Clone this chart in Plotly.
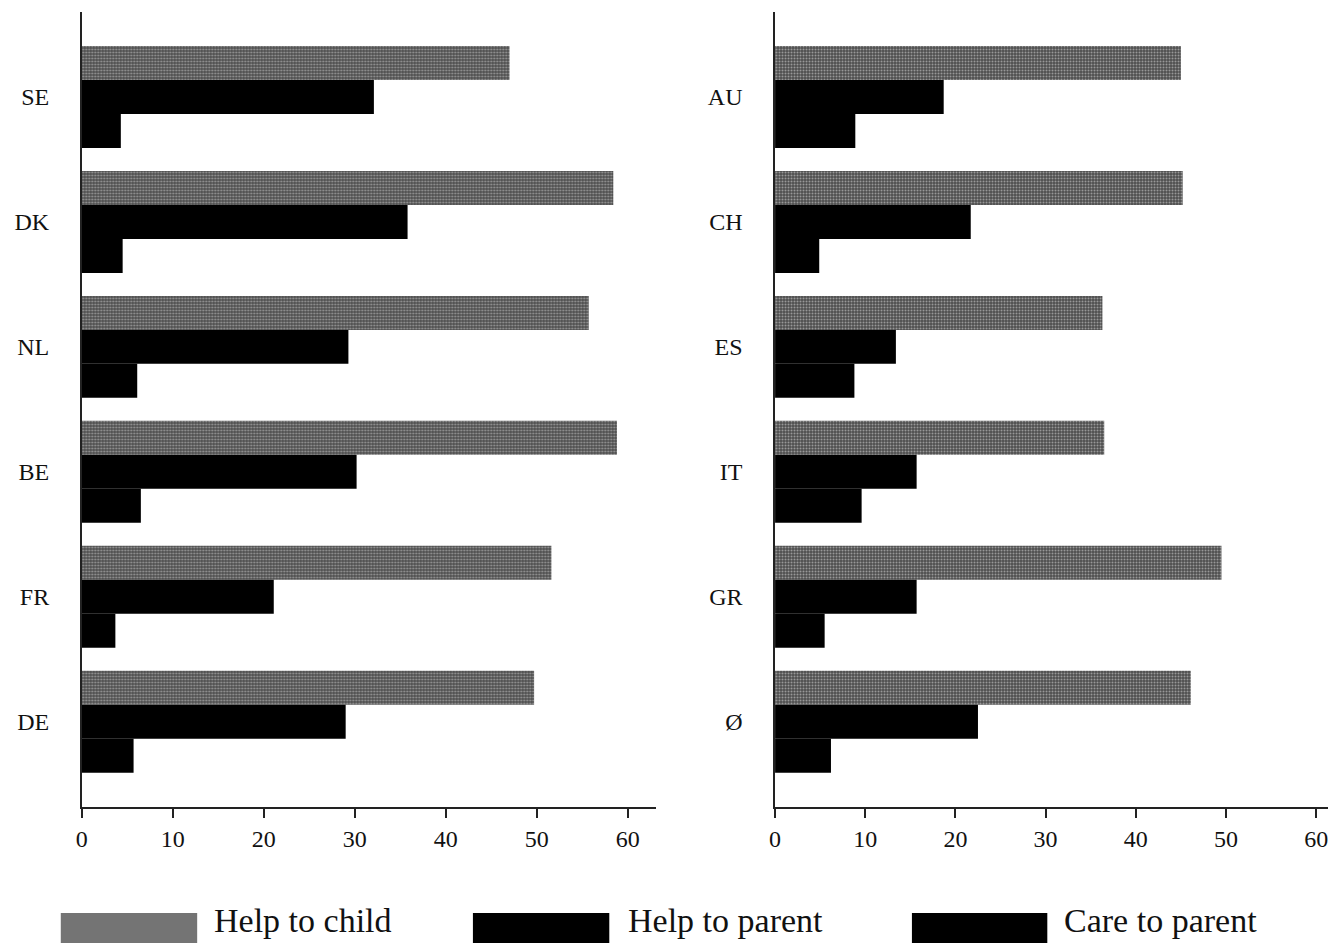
import plotly.graph_objects as go

# ---- data ----
series_names = ["Help to child", "Help to parent", "Care to parent"]

left_countries = ["SE", "DK", "NL", "BE", "FR", "DE"]
left_child = [47.0, 58.4, 55.7, 58.8, 51.6, 49.7]
left_parent = [32.1, 35.8, 29.3, 30.2, 21.1, 29.0]
left_care = [4.3, 4.5, 6.1, 6.5, 3.7, 5.7]

right_countries = ["AU", "CH", "ES", "IT", "GR", "Ø"]
right_child = [45.0, 45.2, 36.3, 36.5, 49.5, 46.1]
right_parent = [18.7, 21.7, 13.4, 15.7, 15.7, 22.5]
right_care = [8.9, 4.9, 8.8, 9.6, 5.5, 6.2]

x_ticks = [0, 10, 20, 30, 40, 50, 60]

# ---- styling ----
# The page body has an 8px margin, so the figure is drawn 8px smaller and
# positions are expressed in window pixels minus that offset.
OFF = 8
W, H = 1328, 935
FONT = "Liberation Serif"
texture = dict(shape=".", fgcolor="#e6e6e6", bgcolor="#4e4e4e", size=3, solidity=0.33)


def px_x(p):
    return (p - OFF) / W


def px_y(p):
    return 1 - (p - OFF) / H


fig = go.Figure()

panels = [
    (left_countries, left_child, left_parent, left_care, "x", "y"),
    (right_countries, right_child, right_parent, right_care, "x2", "y2"),
]
for cats, child, parent, care, xa, ya in panels:
    fig.add_trace(go.Bar(y=cats, x=child, orientation="h", name=series_names[0],
                         marker=dict(color="#777777", pattern=texture, line=dict(width=0)),
                         xaxis=xa, yaxis=ya, showlegend=False))
    fig.add_trace(go.Bar(y=cats, x=parent, orientation="h", name=series_names[1],
                         marker=dict(color="#000000", line=dict(width=0)),
                         xaxis=xa, yaxis=ya, showlegend=False))
    fig.add_trace(go.Bar(y=cats, x=care, orientation="h", name=series_names[2],
                         marker=dict(color="#000000", line=dict(width=0)),
                         xaxis=xa, yaxis=ya, showlegend=False))

ydom = [px_y(806.7), px_y(12)]
xcommon = dict(showline=True, linecolor="#222", linewidth=1.5, ticks="outside",
               ticklen=10, tickwidth=1.5, tickcolor="#222", tickvals=x_ticks,
               showgrid=False, zeroline=False,
               tickfont=dict(family=FONT, size=24, color="#111"))
ycommon = dict(showline=True, linecolor="#222", linewidth=1.5, ticks="",
               showgrid=False, zeroline=False, type="category",
               range=[5.68, -0.68], ticklabelstandoff=26,
               tickfont=dict(family=FONT, size=24, color="#111"))

fig.update_layout(
    width=W, height=H,
    margin=dict(l=0, r=0, t=0, b=0),
    paper_bgcolor="white", plot_bgcolor="white",
    barmode="group", bargap=0.184, bargroupgap=0,
    showlegend=False,
    xaxis=dict(domain=[px_x(76), px_x(653)], range=[0, 63.1], anchor="y", **xcommon),
    yaxis=dict(domain=ydom, anchor="x", categoryarray=left_countries,
               categoryorder="array", **ycommon),
    xaxis2=dict(domain=[px_x(772.5), 1.0], range=[0, 62.2], anchor="y2", **xcommon),
    yaxis2=dict(domain=ydom, anchor="x2", categoryarray=right_countries,
                categoryorder="array", **ycommon),
)

# ---- manual legend (large swatches as in the reference) ----
legend_items = [
    (55, 192, 207, "#747474", series_names[0]),
    (469, 606, 623, "#000000", series_names[1]),
    (910, 1046, 1061, "#000000", series_names[2]),
]
for x0, x1, tx, col, label in legend_items:
    fig.add_shape(type="rect", xref="paper", yref="paper",
                  x0=px_x(x0), x1=px_x(x1), y0=px_y(943), y1=px_y(913),
                  fillcolor=col, line=dict(width=0), layer="above")
    fig.add_annotation(xref="paper", yref="paper", x=px_x(tx), y=px_y(920),
                       xanchor="left", yanchor="middle", showarrow=False,
                       text=label, font=dict(family=FONT, size=34, color="#111"))

fig.write_html("out.html")
